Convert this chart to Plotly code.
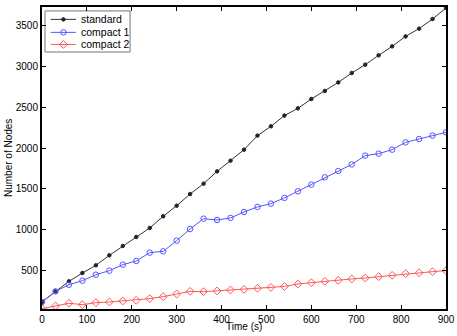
import plotly.graph_objects as go

# time steps (s)
time_s = list(range(0, 901, 30))

# number of nodes per method
standard = [116, 246, 369, 471, 565, 687, 802, 912, 1022, 1165, 1295, 1438, 1565, 1715,
            1846, 1981, 2153, 2267, 2398, 2487, 2602, 2700, 2805, 2920, 3022, 3136,
            3246, 3368, 3463, 3581, 3716]
compact_1 = [116, 246, 327, 377, 450, 499, 573, 618, 720, 736, 867, 1010, 1136, 1120,
             1145, 1218, 1280, 1320, 1390, 1471, 1553, 1642, 1720, 1800, 1908, 1932,
             1981, 2071, 2112, 2153, 2193]
compact_2 = [34, 67, 100, 83, 108, 116, 128, 136, 157, 181, 214, 246, 242, 251,
             263, 271, 283, 295, 307, 336, 352, 369, 381, 398, 410, 426, 442, 463,
             475, 487, 500]

x_ticks = list(range(0, 901, 100))
y_ticks = list(range(500, 3501, 500))

names = ['standard', 'compact 1', 'compact 2']
colors = ['#333333', '#5555ff', '#ff5555']
marker_colors = ['#222222', '#5555ff', '#ff5555']
symbols = ['circle', 'circle-open', 'diamond-open']
sizes = [3.5, 5.5, 6]

fig = go.Figure()
for name, ys, c, mc, sym, sz in zip(names, [standard, compact_1, compact_2], colors, marker_colors, symbols, sizes):
    fig.add_trace(go.Scatter(x=time_s, y=ys, name=name, mode='lines+markers',
                             line=dict(color=c, width=1),
                             marker=dict(symbol=sym, size=sz, color=mc, line=dict(width=1, color=mc)),
                             showlegend=False))

# hand-made MATLAB-like legend (box in the upper left corner)
fig.add_shape(type='rect', xref='paper', yref='paper', x0=0.0074, x1=0.218, y0=0.851, y1=0.987,
              line=dict(color='#777777', width=1), fillcolor='white', layer='below')
row_y = [0.959, 0.916, 0.876]
for name, c, mc, sym, sz, ry in zip(names, colors, marker_colors, symbols, sizes, row_y):
    fig.add_trace(go.Scatter(x=[0.0215, 0.084], y=[ry, ry], mode='lines', xaxis='x2', yaxis='y2',
                             line=dict(color=c, width=1), showlegend=False, hoverinfo='skip'))
    fig.add_trace(go.Scatter(x=[0.053], y=[ry], mode='markers', xaxis='x2', yaxis='y2',
                             marker=dict(symbol=sym, size=sz, color=mc, line=dict(width=1, color=mc)),
                             showlegend=False, hoverinfo='skip'))
    fig.add_annotation(x=0.092, y=ry, xref='paper', yref='paper', text=name, showarrow=False,
                       xanchor='left', yanchor='middle', font=dict(size=10.5, color='black'))

# axis titles
fig.add_annotation(x=0.5, y=0, xref='paper', yref='paper', text='Time (s)', showarrow=False,
                   xanchor='center', yanchor='middle', yshift=-17, font=dict(size=10, color='black'))
fig.add_annotation(x=0, y=0.5, xref='paper', yref='paper', text='Number of Nodes', showarrow=False,
                   textangle=-90, xanchor='center', yanchor='middle', xshift=-34,
                   font=dict(size=10, color='black'))

axis_style = dict(showline=True, linecolor='black', linewidth=2, mirror='ticks',
                  ticks='inside', ticklen=4, tickcolor='black', showgrid=False,
                  zeroline=False, automargin=False, tickfont=dict(size=10, color='black'))

fig.update_xaxes(range=[0, 900], tickvals=x_ticks, **axis_style)
fig.update_yaxes(range=[30, 3728], tickvals=y_ticks, **axis_style)

fig.update_layout(
    width=457, height=336,
    margin=dict(l=42, r=11, t=7, b=27, autoexpand=False),
    plot_bgcolor='white', paper_bgcolor='white',
    font=dict(family='Liberation Sans, Arial, sans-serif', size=10, color='black'),
    xaxis2=dict(range=[0, 1], overlaying='x', visible=False, fixedrange=True),
    yaxis2=dict(range=[0, 1], overlaying='y', visible=False, fixedrange=True),
    showlegend=False,
)

# drop the default page margin so the figure sits at the window's corner
fig.write_html("out.html", config={'displayModeBar': False},
               post_script="document.body.style.margin='0';document.body.style.overflow='hidden';")
